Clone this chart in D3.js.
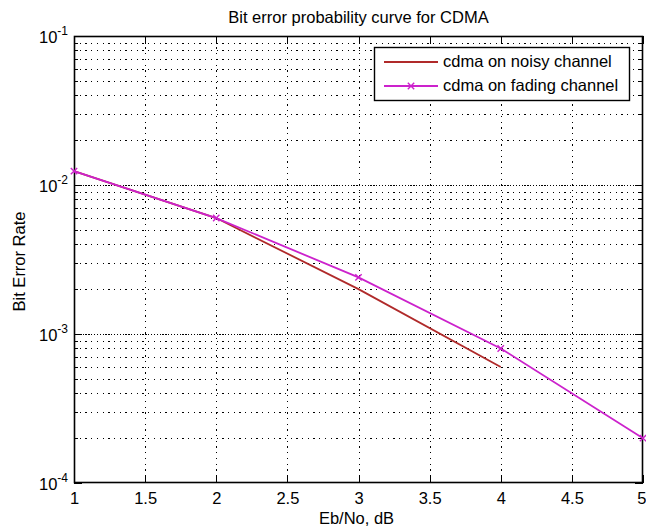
<!DOCTYPE html>
<html><head><meta charset="utf-8">
<script src="https://cdn.jsdelivr.net/npm/d3@7"></script>
<style>
body{margin:0;background:#fff}
svg{display:block}
text{font-family:"Liberation Sans",Arial,Helvetica,sans-serif;fill:#000}
</style>
</head><body>
<svg id="chart" width="646" height="528"></svg>
<script>
// ---- data ----
const ebnoNoisy = [1, 2, 3, 4];
const berNoisy = [0.0124, 0.0060, 0.0020, 0.0006];
const ebnoFading = [1, 2, 3, 4, 5];
const berFading = [0.0124, 0.0060, 0.0024, 0.0008, 0.0002];
const xTicks = [1, 1.5, 2, 2.5, 3, 3.5, 4, 4.5, 5];
const xTickLabels = ["1", "1.5", "2", "2.5", "3", "3.5", "4", "4.5", "5"];
const yDecades = [1e-4, 1e-3, 1e-2, 1e-1];
const yDecadeExp = ["-4", "-3", "-2", "-1"];
const seriesNames = ["cdma on noisy channel", "cdma on fading channel"];
const seriesColors = ["#b02a2a", "#cc22cc"];
const titleText = "Bit error probability curve for CDMA";
const xLabelText = "Eb/No, dB";
const yLabelText = "Bit Error Rate";

// ---- layout ----
const W = 646, H = 528;
const L = 74, R = 643, T = 36, B = 483;
const FS = 16.5;

const svg = d3.select("#chart");
const x = d3.scaleLinear().domain([1, 5]).range([L, R]);
const y = d3.scaleLog().domain([1e-4, 1e-1]).range([B, T]);

// minor log ticks (2..9 within each decade)
const yMinor = [];
yDecades.slice(0, -1).forEach(d => { for (let k = 2; k <= 9; k++) yMinor.push(d * k); });

svg.append("rect").attr("x", L).attr("y", T).attr("width", R - L).attr("height", B - T).attr("fill", "#fff");

// ---- grid ----
const grid = svg.append("g").attr("stroke", "#000").attr("stroke-width", 1).attr("fill", "none")
  .attr("shape-rendering", "crispEdges");
const dash = "1.3,4.4";
xTicks.filter(v => v > 1 && v < 5).forEach(v => {
  const px = Math.round(x(v)) + 0.5;
  grid.append("line").attr("x1", px).attr("x2", px).attr("y1", T).attr("y2", B).attr("stroke-dasharray", dash);
});
yMinor.forEach(v => {
  const py = Math.round(y(v)) + 0.5;
  grid.append("line").attr("x1", L).attr("x2", R).attr("y1", py).attr("y2", py).attr("stroke-dasharray", dash);
});
yDecades.filter(v => v > 1e-4 && v < 1e-1).forEach(v => {
  const py = Math.round(y(v)) + 0.5;
  grid.append("line").attr("x1", L).attr("x2", R).attr("y1", py).attr("y2", py).attr("stroke-dasharray", dash);
  grid.append("line").attr("x1", L).attr("x2", R).attr("y1", py).attr("y2", py).attr("stroke-dasharray", dash).attr("stroke-dashoffset", 2.8);
});

// ---- axes ----
function styleAxis(g) {
  g.select(".domain").remove();
  g.selectAll(".tick line").attr("stroke", "#000").attr("shape-rendering", "crispEdges");
  g.selectAll("text").attr("font-size", FS).attr("font-family", '"Liberation Sans",Arial,sans-serif').attr("fill", "#000");
}
const xb = svg.append("g").attr("transform", `translate(0,${B})`)
  .call(d3.axisBottom(x).tickValues(xTicks).tickSize(-8).tickSizeOuter(0).tickPadding(9)
    .tickFormat((d, i) => xTickLabels[i]))
  .call(styleAxis);
// keep the last label inside the page edge
xb.selectAll(".tick").filter(d => d === 5).select("text").attr("text-anchor", "end").attr("x", 3);
svg.append("g").attr("transform", `translate(0,${T})`)
  .call(d3.axisTop(x).tickValues(xTicks).tickSize(-8).tickSizeOuter(0).tickFormat(""))
  .call(styleAxis);
const yl = svg.append("g").attr("transform", `translate(${L},0)`)
  .call(d3.axisLeft(y).tickValues(yDecades).tickSize(-8).tickSizeOuter(0).tickPadding(6).tickFormat(""))
  .call(styleAxis);
svg.append("g").attr("transform", `translate(${L},0)`)
  .call(d3.axisLeft(y).tickValues(yMinor).tickSize(-4).tickSizeOuter(0).tickFormat(""))
  .call(styleAxis);
svg.append("g").attr("transform", `translate(${R},0)`)
  .call(d3.axisRight(y).tickValues(yDecades).tickSize(-8).tickSizeOuter(0).tickFormat(""))
  .call(styleAxis);
svg.append("g").attr("transform", `translate(${R},0)`)
  .call(d3.axisRight(y).tickValues(yMinor).tickSize(-4).tickSizeOuter(0).tickFormat(""))
  .call(styleAxis);

// y decade labels with superscripts
yl.selectAll(".tick").each(function (d) {
  const i = yDecades.indexOf(d);
  const t = d3.select(this).select("text");
  t.text(null).attr("x", -6).attr("dy", "0.38em").attr("text-anchor", "end");
  t.append("tspan").text("10");
  t.append("tspan").attr("dy", -8).attr("font-size", 12).text(yDecadeExp[i]);
});

// ---- box ----
svg.append("rect").attr("x", L + 0.5).attr("y", T + 0.5).attr("width", R - L - 1).attr("height", B - T - 1)
  .attr("fill", "none").attr("stroke", "#000").attr("stroke-width", 1.6);

// ---- lines ----
const line = d3.line().x(d => x(d[0])).y(d => y(d[1]));
const noisy = ebnoNoisy.map((v, i) => [v, berNoisy[i]]);
const fading = ebnoFading.map((v, i) => [v, berFading[i]]);
svg.append("path").datum(noisy).attr("d", line).attr("fill", "none")
  .attr("stroke", seriesColors[0]).attr("stroke-width", 1.8);
svg.append("path").datum(fading).attr("d", line).attr("fill", "none")
  .attr("stroke", seriesColors[1]).attr("stroke-width", 1.8);
const ms = 3.2;
svg.append("g").selectAll("path").data(fading).join("path")
  .attr("d", d => `M${x(d[0]) - ms},${y(d[1]) - ms}L${x(d[0]) + ms},${y(d[1]) + ms}M${x(d[0]) - ms},${y(d[1]) + ms}L${x(d[0]) + ms},${y(d[1]) - ms}`)
  .attr("stroke", seriesColors[1]).attr("stroke-width", 1.4).attr("fill", "none");

// ---- legend ----
const lg = svg.append("g");
lg.append("rect").attr("x", 374.5).attr("y", 47.5).attr("width", 255).attr("height", 53)
  .attr("fill", "#fff").attr("stroke", "#000").attr("stroke-width", 1.4);
const legY = [62, 86];
seriesNames.forEach((name, i) => {
  lg.append("line").attr("x1", 384).attr("x2", 438).attr("y1", legY[i]).attr("y2", legY[i])
    .attr("stroke", seriesColors[i]).attr("stroke-width", 1.8);
  lg.append("text").attr("x", 443).attr("y", legY[i] + 4.8).attr("font-size", FS).text(name);
});
{
  const cx = 411, cy = legY[1];
  lg.append("path").attr("d", `M${cx - ms},${cy - ms}L${cx + ms},${cy + ms}M${cx - ms},${cy + ms}L${cx + ms},${cy - ms}`)
    .attr("stroke", seriesColors[1]).attr("stroke-width", 1.4);
}

// ---- titles ----
svg.append("text").attr("x", (L + R) / 2).attr("y", 23).attr("text-anchor", "middle")
  .attr("font-size", FS).text(titleText);
svg.append("text").attr("x", (L + R) / 2 - 2).attr("y", 524).attr("text-anchor", "middle")
  .attr("font-size", FS).text(xLabelText);
svg.append("text").attr("transform", `translate(25,${(T + B) / 2 + 2}) rotate(-90)`)
  .attr("text-anchor", "middle").attr("font-size", FS).text(yLabelText);
</script>
</body></html>
